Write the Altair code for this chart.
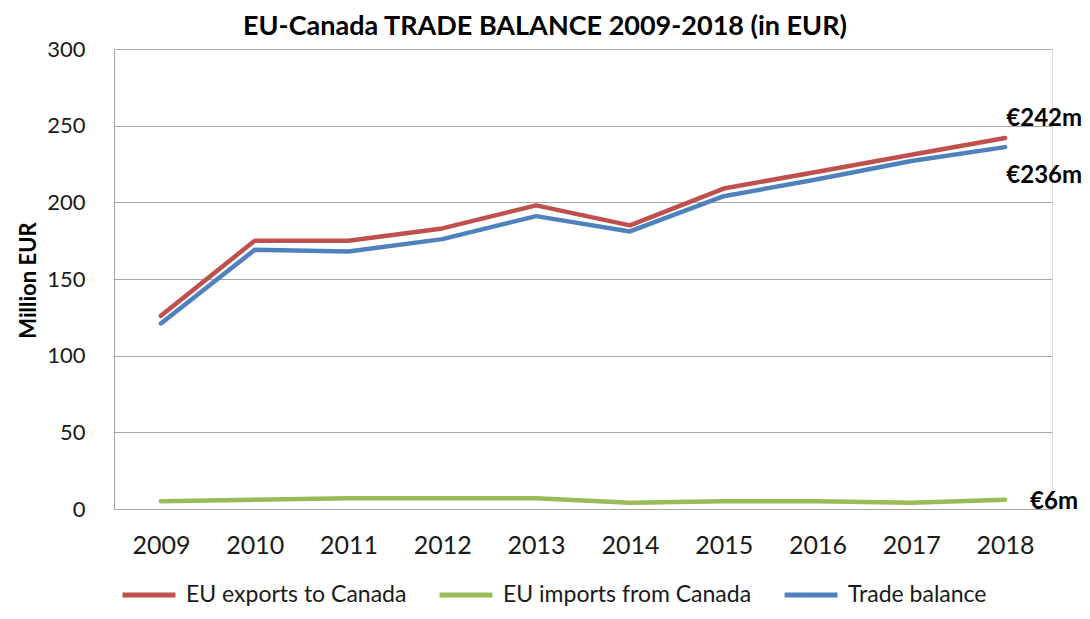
import altair as alt
import pandas as pd

years = ["2009", "2010", "2011", "2012", "2013", "2014", "2015", "2016", "2017", "2018"]
exports = [126, 175, 175, 183, 198, 185, 209, 220, 231, 242]
imports = [5, 6, 7, 7, 7, 4, 5, 5, 4, 6]
balance = [121, 169, 168, 176, 191, 181, 204, 215, 227, 236]
series_names = ["EU exports to Canada", "EU imports from Canada", "Trade balance"]
colors = ["#C0504D", "#9BBB59", "#4F81BD"]
end_labels = ["€242m", "€6m", "€236m"]
y_ticks = [0, 50, 100, 150, 200, 250, 300]

FONT = "Lato"

rows = []
for name, vals in zip(series_names, [exports, imports, balance]):
    for yr, v in zip(years, vals):
        rows.append({"Year": yr, "Value": v, "Series": name})
df = pd.DataFrame(rows)

lab_df = pd.DataFrame({
    "Year": [years[-1]] * 3,
    "Value": [exports[-1], imports[-1], balance[-1]],
    "Label": end_labels,
    "Series": series_names,
})

x_enc = alt.X(
    "Year:O",
    sort=years,
    scale=alt.Scale(type="point", padding=0.5),
    axis=alt.Axis(
        title=None, labelAngle=0, labelFontSize=25, labelColor="#1a1a1a",
        ticks=False, domainColor="#A6A6A6", domainWidth=1, grid=False,
        labelPadding=24, labelFont=FONT,
    ),
)
y_enc = alt.Y(
    "Value:Q",
    scale=alt.Scale(domain=[0, 300], nice=False),
    axis=alt.Axis(
        values=y_ticks, title="Million EUR", titleFontSize=22, titleFontWeight="bold",
        titleFont=FONT, titleColor="#000000", titleX=-86, titleY=231, titleAngle=-90,
        titleAlign="center", titleBaseline="middle",
        labelFontSize=22, labelColor="#1a1a1a", labelFont=FONT, labelPadding=29,
        ticks=False, domainColor="#A6A6A6", grid=True, gridColor="#A6A6A6", gridWidth=1,
    ),
)

color_enc = alt.Color(
    "Series:N",
    scale=alt.Scale(domain=series_names, range=colors),
    legend=alt.Legend(
        title=None, orient="none", legendX=6, legendY=517, direction="horizontal",
        symbolType="stroke", symbolSize=2800, symbolStrokeWidth=5,
        labelFontSize=23, labelFont=FONT, labelColor="#1a1a1a", labelOffset=8,
        columnPadding=22, labelLimit=400,
    ),
)

lines = alt.Chart(df).mark_line(strokeWidth=4.5, strokeCap="round", strokeJoin="round").encode(
    x=x_enc, y=y_enc, color=color_enc, order=alt.Order("Year:O")
)

base_lab = alt.Chart(lab_df)
lab_exp = base_lab.transform_filter(alt.datum.Series == series_names[0]).mark_text(
    fontSize=24, fontWeight="bold", font=FONT, color="#000000", align="right", dx=77, dy=-19
).encode(x=alt.X("Year:O", sort=years), y="Value:Q", text="Label:N")
lab_imp = base_lab.transform_filter(alt.datum.Series == series_names[1]).mark_text(
    fontSize=24, fontWeight="bold", font=FONT, color="#000000", align="left", dx=25, dy=2
).encode(x=alt.X("Year:O", sort=years), y="Value:Q", text="Label:N")
lab_bal = base_lab.transform_filter(alt.datum.Series == series_names[2]).mark_text(
    fontSize=24, fontWeight="bold", font=FONT, color="#000000", align="right", dx=77, dy=29
).encode(x=alt.X("Year:O", sort=years), y="Value:Q", text="Label:N")

chart = alt.layer(lines, lab_exp, lab_imp, lab_bal).properties(
    width=938,
    height=460,
    autosize=alt.AutoSizeParams(type="none"),
    padding={"left": 106, "top": 41, "right": 30, "bottom": 101},
    title=alt.TitleParams(
        "EU-Canada TRADE BALANCE 2009-2018 (in EUR)", fontSize=27, fontWeight="bold",
        font=FONT, color="#000000", anchor="middle", dx=-38, offset=-3,
    ),
).configure_view(stroke="transparent", strokeWidth=0).configure(background="white")

chart.save("out.html", embed_options={"renderer": "svg", "actions": False})
